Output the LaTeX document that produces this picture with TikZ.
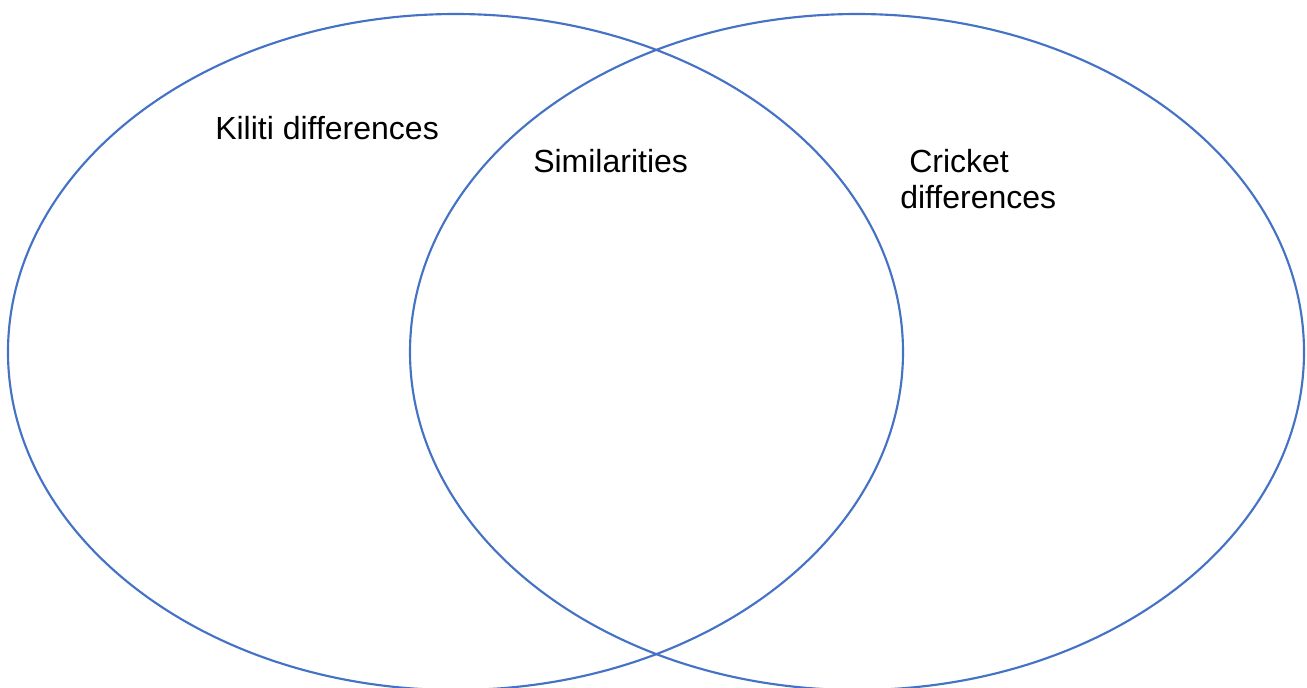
\documentclass[tikz,border=0pt]{standalone}
\usepackage{fontspec}
\setmainfont{Liberation Sans}
\usepackage{tikz}
\usetikzlibrary{positioning}
\definecolor{setblue}{HTML}{4472C4}

\begin{document}
\begin{tikzpicture}[x=0.75pt,y=-0.75pt,
                    set line/.style={draw=setblue,line width=1.6pt},
                    set label/.style={font=\fontsize{24}{27}\selectfont,anchor=base west,inner sep=0pt}]

  \useasboundingbox (0,0) rectangle (1307,687);
  \clip (0,0) rectangle (1307,687);

  \draw[set line] (455.5,352) ellipse [x radius=447.5,y radius=338];
  \draw[set line] (857,352) ellipse [x radius=447,y radius=338];

  \node[set label] (kiliti) at (215,139) {Kiliti differences};
  \node[set label] (similar) at (533,172) {Similarities};
  \node[set label] (cricket) at (909,172) {Cricket};
  \node[set label] (crdiff) at (900,208) {differences};
\end{tikzpicture}
\end{document}
